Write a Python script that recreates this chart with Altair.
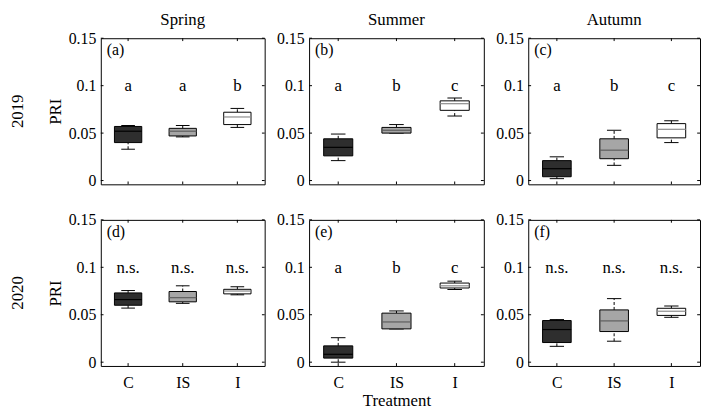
import json
import altair as alt
import pandas as pd

# ---------------- data ----------------
treatments = ["C", "IS", "I"]
positions = [1, 2, 3]
seasons = ["Spring", "Summer", "Autumn"]
years = ["2019", "2020"]
panel_tags = ["(a)", "(b)", "(c)", "(d)", "(e)", "(f)"]

# one row per panel (a..f), one value per treatment (C, IS, I)
whisker_low = [
    [0.033, 0.046, 0.056],
    [0.021, 0.050, 0.068],
    [0.002, 0.016, 0.040],
    [0.057, 0.062, 0.071],
    [0.000, 0.035, 0.0766],
    [0.0167, 0.0221, 0.0473],
]
quart1 = [
    [0.040, 0.047, 0.059],
    [0.026, 0.050, 0.074],
    [0.004, 0.023, 0.045],
    [0.060, 0.0636, 0.072],
    [0.0043, 0.0351, 0.0782],
    [0.0207, 0.0323, 0.0493],
]
medians = [
    [0.052, 0.052, 0.067],
    [0.035, 0.053, 0.081],
    [0.0125, 0.032, 0.054],
    [0.066, 0.068, 0.075],
    [0.0083, 0.0424, 0.0805],
    [0.0344, 0.0435, 0.0537],
]
quart3 = [
    [0.057, 0.055, 0.072],
    [0.044, 0.056, 0.084],
    [0.021, 0.044, 0.060],
    [0.073, 0.0745, 0.0768],
    [0.0172, 0.0517, 0.0834],
    [0.0439, 0.0551, 0.0568],
]
whisker_high = [
    [0.058, 0.058, 0.076],
    [0.049, 0.059, 0.087],
    [0.025, 0.053, 0.063],
    [0.0755, 0.0805, 0.0795],
    [0.0258, 0.054, 0.0854],
    [0.0449, 0.067, 0.0592],
]
letters = [
    ["a", "a", "b"],
    ["a", "b", "c"],
    ["a", "b", "c"],
    ["n.s.", "n.s.", "n.s."],
    ["a", "b", "c"],
    ["n.s.", "n.s.", "n.s."],
]
y_ticks = [0, 0.05, 0.1, 0.15]

# ---------------- styling ----------------
box_fills = ["#2e2e2e", "#a6a6a6", "#ffffff"]
median_colors = ["#000000", "#5e5e5e", "#8c8c8c"]
FONT = "Liberation Serif"
Y_DOMAIN = [-0.004, 0.15]
X_DOMAIN = [0.5, 3.5]
LETTER_Y = 0.094
WIDTHS = [166, 177, 174]
HEIGHT = 148

label_expr = "%s[datum.value - 1]" % json.dumps(treatments)


def make_panel(row, col):
    idx = row * 3 + col
    df = pd.DataFrame({
        "treat": treatments,
        "pos": positions,
        "lo": whisker_low[idx],
        "q1": quart1[idx],
        "med": medians[idx],
        "q3": quart3[idx],
        "hi": whisker_high[idx],
        "fill": box_fills,
        "medc": median_colors,
        "letter": letters[idx],
    })
    xs = alt.Scale(domain=X_DOMAIN, nice=False, zero=False)
    ys = alt.Scale(domain=Y_DOMAIN, nice=False, zero=False)
    if row == 1:
        xaxis = alt.Axis(values=positions, labelExpr=label_expr,
                         labelPadding=9, titlePadding=2, grid=False, ticks=False,
                         domain=False)
    else:
        xaxis = None
    yaxis = alt.Axis(values=y_ticks, format=".2~g", labelPadding=5, titlePadding=4,
                     grid=False, ticks=False, domain=False)
    xtitle = "Treatment" if (row == 1 and col == 1) else None
    ytitle = "PRI" if col == 0 else None

    def X(f):
        return alt.X(f, type="quantitative", scale=xs, axis=xaxis, title=xtitle)

    def Y(f):
        return alt.Y(f, type="quantitative", scale=ys, axis=yaxis, title=ytitle)

    base = alt.Chart(df).transform_calculate(
        bl="datum.pos - 0.25", br="datum.pos + 0.25",
        cl="datum.pos - 0.125", cr="datum.pos + 0.125",
        ly=str(LETTER_Y),
    )
    w_up = base.mark_rule(color="black", strokeDash=[3, 2]).encode(
        x=X("pos"), y=Y("q3"), y2="hi")
    w_dn = base.mark_rule(color="black", strokeDash=[3, 2]).encode(
        x=X("pos"), y=Y("lo"), y2="q1")
    cap_up = base.mark_rule(color="black").encode(x=X("cl"), x2="cr", y=Y("hi"))
    cap_dn = base.mark_rule(color="black").encode(x=X("cl"), x2="cr", y=Y("lo"))
    box = base.mark_rect(stroke="black", strokeWidth=1).encode(
        x=X("bl"), x2="br", y=Y("q1"), y2="q3",
        fill=alt.Fill("fill:N", scale=None))
    med = base.mark_rule(strokeWidth=1.2).encode(
        x=X("bl"), x2="br", y=Y("med"),
        color=alt.Color("medc:N", scale=None))
    let = base.mark_text(font=FONT, fontSize=17, baseline="alphabetic",
                         align="center", color="black").encode(
        x=X("pos"), y=Y("ly"), text="letter:N")

    # inner axis ticks (MATLAB style), drawn through the scales
    tk_rows = []
    for v in y_ticks:
        tk_rows.append({"x": X_DOMAIN[0], "x2": X_DOMAIN[0] + 0.05, "y": v, "y2": v})
        tk_rows.append({"x": X_DOMAIN[1] - 0.05, "x2": X_DOMAIN[1], "y": v, "y2": v})
    for p in positions:
        tk_rows.append({"x": p, "x2": p, "y": Y_DOMAIN[0], "y2": Y_DOMAIN[0] + 0.003})
        tk_rows.append({"x": p, "x2": p, "y": Y_DOMAIN[1] - 0.003, "y2": Y_DOMAIN[1]})
    ticks = alt.Chart(pd.DataFrame(tk_rows)).mark_rule(color="black").encode(
        x=X("x"), x2="x2", y=Y("y"), y2="y2")

    tag = alt.Chart(pd.DataFrame({"t": [panel_tags[idx]]})).mark_text(
        font=FONT, fontSize=16, align="left", baseline="top", color="black").encode(
        text="t:N", x=alt.value(6), y=alt.value(4))

    layers = [w_up, w_dn, cap_up, cap_dn, box, med, let, ticks, tag]
    if col == 0:
        rl = alt.Chart(pd.DataFrame({"t": [years[row]]})).mark_text(
            font=FONT, fontSize=17, angle=270, align="center", baseline="middle",
            color="black").encode(
            text="t:N", x=alt.value(-84), y=alt.value(HEIGHT / 2))
        layers.append(rl)

    ch = alt.layer(*layers).properties(width=WIDTHS[col], height=HEIGHT)
    if row == 0:
        ch = ch.properties(title=alt.TitleParams(
            seasons[col], font=FONT, fontSize=17, fontWeight="normal",
            anchor="middle", offset=1, color="black"))
    return ch


rows = []
for r in range(2):
    rows.append(alt.hconcat(*[make_panel(r, c) for c in range(3)], spacing=10))

chart = alt.vconcat(*rows, spacing=22).properties(
    padding=0, background="white"
).configure_view(
    stroke="black", strokeWidth=1
).configure_axis(
    grid=False, domain=False, ticks=False,
    labelFont=FONT, labelFontSize=16, labelColor="black",
    titleFont=FONT, titleFontSize=17, titleFontWeight="normal", titleColor="black",
)

chart.save("out.html", embed_options={"renderer": "svg", "actions": False})
